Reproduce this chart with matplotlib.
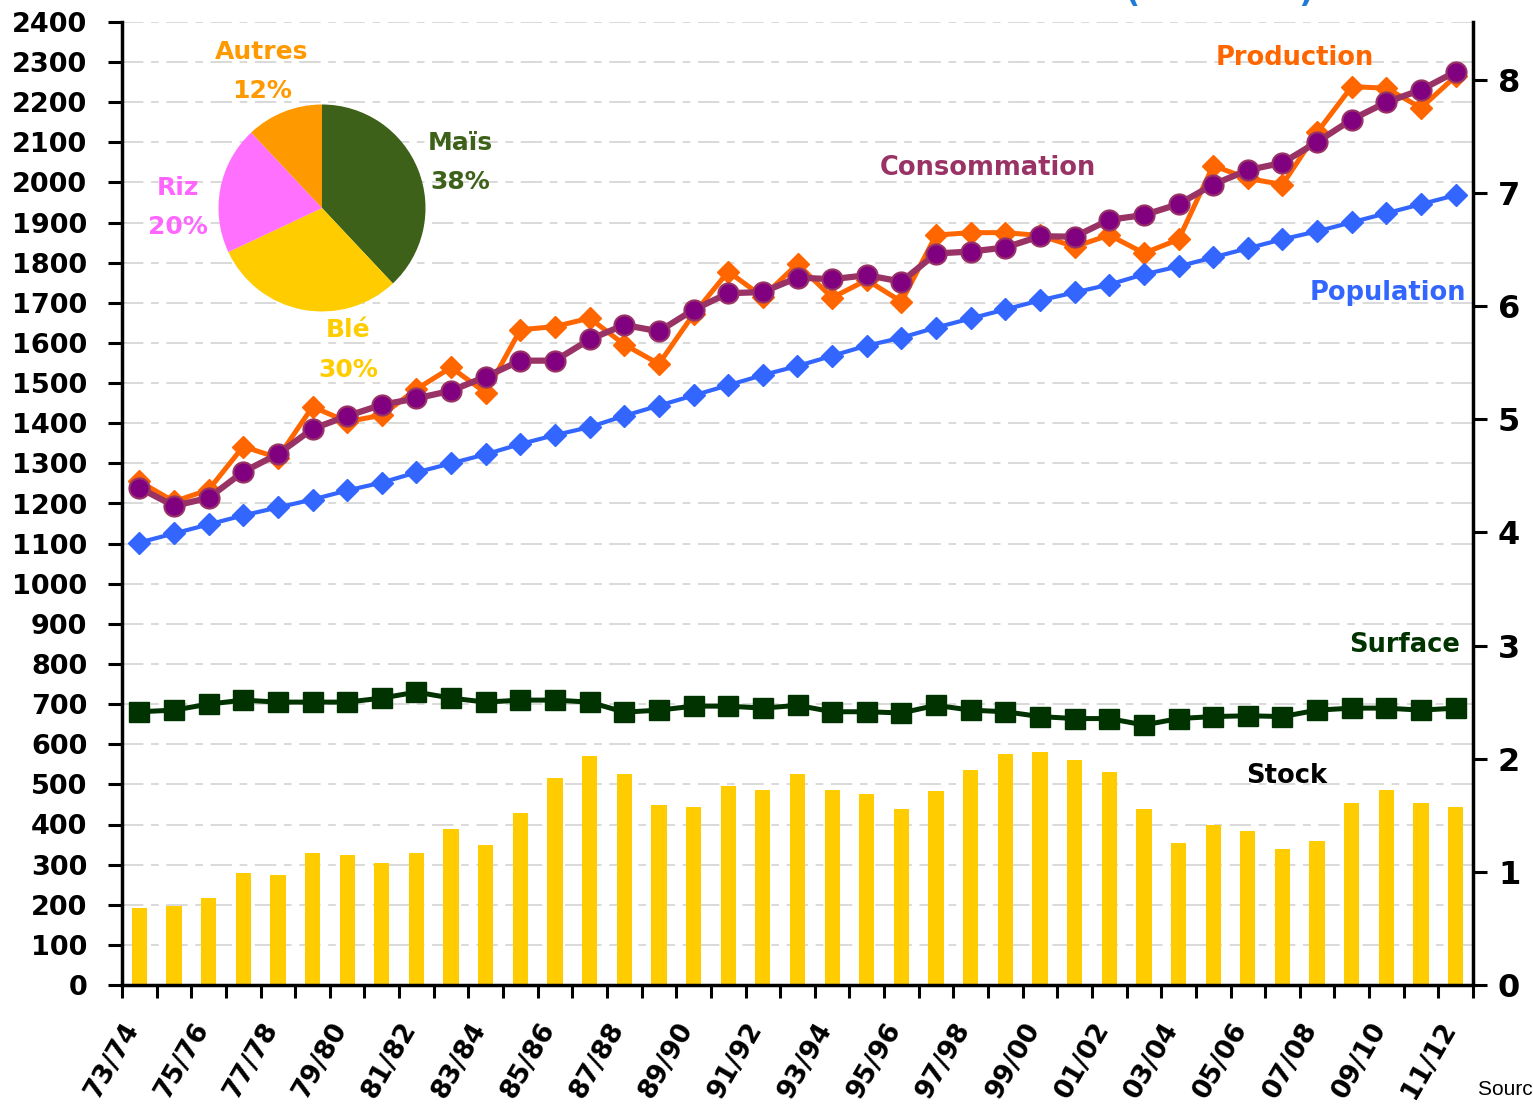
import matplotlib
matplotlib.use("Agg")
import matplotlib.pyplot as plt
import numpy as np

# ---------------- data ----------------
seasons = ["73/74", "74/75", "75/76", "76/77", "77/78", "78/79", "79/80", "80/81",
           "81/82", "82/83", "83/84", "84/85", "85/86", "86/87", "87/88", "88/89",
           "89/90", "90/91", "91/92", "92/93", "93/94", "94/95", "95/96", "96/97",
           "97/98", "98/99", "99/00", "00/01", "01/02", "02/03", "03/04", "04/05",
           "05/06", "06/07", "07/08", "08/09", "09/10", "10/11", "11/12"]

production = [1255, 1205, 1234, 1342, 1314, 1441, 1404, 1420, 1485, 1539,
              1476, 1633, 1641, 1662, 1596, 1548, 1672, 1778, 1715, 1797,
              1713, 1757, 1703, 1869, 1875, 1875, 1868, 1840, 1869, 1824,
              1858, 2042, 2010, 1995, 2125, 2239, 2235, 2186, 2265]

consommation = [1239, 1194, 1214, 1279, 1323, 1386, 1418, 1446, 1462, 1481,
                1516, 1556, 1556, 1609, 1645, 1629, 1683, 1724, 1727, 1763,
                1759, 1769, 1753, 1823, 1828, 1838, 1866, 1865, 1907, 1919,
                1946, 1995, 2031, 2049, 2101, 2157, 2200, 2231, 2276]

population = [3.91, 3.99, 4.07, 4.15, 4.22, 4.29, 4.37, 4.44, 4.53, 4.61,
              4.69, 4.78, 4.86, 4.93, 5.03, 5.12, 5.21, 5.30, 5.39, 5.47,
              5.56, 5.65, 5.72, 5.81, 5.89, 5.97, 6.05, 6.12, 6.19, 6.28,
              6.35, 6.43, 6.51, 6.59, 6.66, 6.74, 6.82, 6.90, 6.98]

surface = [681, 685, 700, 710, 705, 705, 705, 715, 730, 715,
           705, 710, 710, 705, 680, 685, 695, 695, 690, 697,
           681, 681, 678, 697, 685, 681, 669, 664, 664, 648,
           664, 669, 671, 669, 685, 690, 690, 685, 690]

stock = [192, 197, 217, 279, 274, 329, 324, 304, 329, 389,
         349, 429, 516, 571, 526, 449, 444, 496, 486, 526,
         486, 476, 439, 483, 536, 576, 581, 561, 531, 439,
         354, 399, 384, 339, 359, 454, 486, 454, 444]

pie_labels = ["Maïs", "Blé", "Riz", "Autres"]
pie_values = [38, 30, 20, 12]

left_ticks = list(range(0, 2401, 100))
right_ticks = [0, 1, 2, 3, 4, 5, 6, 7, 8]

# ---------------- figure ----------------
W, H = 1533, 1115
fig = plt.figure(figsize=(W / 100, H / 100), dpi=100)
fig.patch.set_facecolor("white")

def fx(px):
    return px / W

def fy(py):
    return 1 - py / H

FONT = "DejaVu Sans"
plt.rcParams["font.family"] = [FONT]

ax = fig.add_axes([fx(122), fy(985), fx(1473) - fx(122), fy(22) - fy(985)])
n = len(seasons)
x = np.arange(n)
ax.set_xlim(-0.5, n - 0.5)
ax.set_ylim(0, 2400)
ax.set_yticks(left_ticks)
ax.set_yticklabels([str(v) for v in left_ticks], fontsize=19.5, fontweight="bold")
ax.yaxis.grid(True, color="#CFCFCF", lw=1.1, linestyle=(0, (14, 5, 5, 5)))
ax.set_axisbelow(True)

ax.bar(x, stock, width=0.44, color="#FFCC00", zorder=2)
ax.plot(x, surface, color="#003300", lw=3.6, marker="s", ms=14, zorder=3)
ax.plot(x, production, color="#FF6600", lw=3.6, marker="D", ms=11, zorder=4)
ax.plot(x, consommation, color="#993366", lw=4.5, marker="o", ms=14.5,
        mfc="#800080", mec="#993366", mew=1.5, zorder=5)

# x ticks: marks at boundaries, labels at every other category
ax.set_xticks(np.arange(-0.5, n, 1.0))
ax.set_xticklabels([])
ax.set_xticks(x[::2], minor=True)
ax.set_xticklabels(seasons[::2], minor=True, fontsize=19, fontweight="bold")
for lbl in ax.get_xticklabels(minor=True):
    lbl.set_rotation(60)
    lbl.set_ha("right")
    lbl.set_va("baseline")
    lbl.set_rotation_mode("anchor")
ax.tick_params(axis="x", which="major", length=9, width=2.2, direction="out")
ax.tick_params(axis="x", which="minor", length=0, pad=31)
ax.tick_params(axis="y", which="major", length=10, width=2.2, direction="out", pad=15)

for side in ["top", "right"]:
    ax.spines[side].set_visible(False)
for side in ["left", "bottom"]:
    ax.spines[side].set_linewidth(2.5)

ax2 = ax.twinx()
ax2.set_ylim(0, 8.51)
ax2.set_yticks(right_ticks)
ax2.set_yticklabels([str(v) for v in right_ticks], fontsize=23, fontweight="bold")
ax2.tick_params(axis="y", length=10, width=2.2, direction="out", pad=8)
for side in ["top", "left", "bottom"]:
    ax2.spines[side].set_visible(False)
ax2.spines["right"].set_linewidth(2.5)
ax2.plot(x, population, color="#3366FF", lw=3.0, marker="D", ms=11.5, zorder=3)

# ---------------- pie inset ----------------
pax = fig.add_axes([fx(218.5), fy(311.5), fx(425.5) - fx(218.5), fy(104.5) - fy(311.5)])
pax.pie(pie_values, colors=["#3E6119", "#FFCC00", "#FF70FF", "#FF9900"],
        startangle=90, counterclock=False)
pax.set_xlim(-1, 1)
pax.set_ylim(-1, 1)
pax.set_aspect("equal")
pax.axis("off")

pie_text = [("Maïs", "38%", 460, 143, 182, "#3E6119"),
            ("Blé", "30%", 348, 330, 370, "#FFCC00"),
            ("Riz", "20%", 178, 188, 227, "#FF66FF"),
            ("Autres", "12%", 262, 52, 91, "#FF9900")]
for name, pct, px, py1, py2, col in pie_text:
    fig.text(fx(px), fy(py1), name, color=col, fontsize=18, fontweight="bold",
             ha="center", va="center")
    fig.text(fx(px), fy(py2), pct, color=col, fontsize=18, fontweight="bold",
             ha="center", va="center")

# ---------------- series labels ----------------
series_text = [("Production", 1295, 58, "#FF6600"),
               ("Consommation", 988, 168, "#993366"),
               ("Population", 1388, 293, "#3366FF"),
               ("Surface", 1405, 645, "#003300"),
               ("Stock", 1287, 776, "black")]
for txt, px, py, col in series_text:
    fig.text(fx(px), fy(py), txt, color=col, fontsize=18.5, fontweight="bold",
             ha="center", va="center")

# partially visible title and source (cut by the image edges, as in the original)
fig.text(fx(1220), fy(2), "(               )", color="#1F7AD6", fontsize=22,
         fontweight="bold", ha="center", va="baseline")
fig.text(fx(1478), fy(1095), "Source : FAO", color="black", fontsize=15,
         family="Liberation Sans", ha="left", va="baseline")

fig.savefig("out.png", dpi=100, facecolor="white")
